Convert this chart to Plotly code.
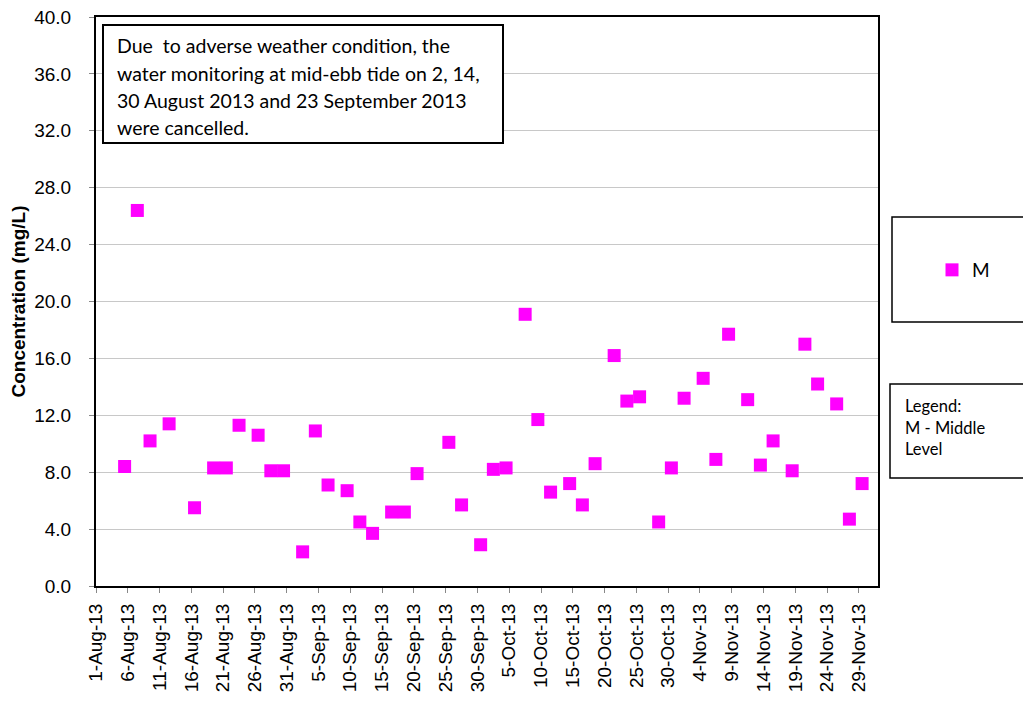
import plotly.graph_objects as go

# ---------------- data ----------------
dates = [
    "2013-08-05", "2013-08-07", "2013-08-09", "2013-08-12", "2013-08-16", "2013-08-19",
    "2013-08-21", "2013-08-23", "2013-08-26", "2013-08-28", "2013-08-30",
    "2013-09-02", "2013-09-04", "2013-09-06", "2013-09-09", "2013-09-11", "2013-09-13",
    "2013-09-16", "2013-09-18", "2013-09-20", "2013-09-25", "2013-09-27", "2013-09-30",
    "2013-10-02", "2013-10-04", "2013-10-07", "2013-10-09", "2013-10-11", "2013-10-14",
    "2013-10-16", "2013-10-18", "2013-10-21", "2013-10-23", "2013-10-25", "2013-10-28",
    "2013-10-30", "2013-11-01", "2013-11-04", "2013-11-06", "2013-11-08", "2013-11-11",
    "2013-11-13", "2013-11-15", "2013-11-18", "2013-11-20", "2013-11-22", "2013-11-25",
    "2013-11-27", "2013-11-29",
]
m_values = [
    8.4, 26.4, 10.2, 11.4, 5.5, 8.3,
    8.3, 11.3, 10.6, 8.1, 8.1,
    2.4, 10.9, 7.1, 6.7, 4.5, 3.7,
    5.2, 5.2, 7.9, 10.1, 5.7, 2.9,
    8.2, 8.3, 19.1, 11.7, 6.6, 7.2,
    5.7, 8.6, 16.2, 13.0, 13.3, 4.5,
    8.3, 13.2, 14.6, 8.9, 17.7, 13.1,
    8.5, 10.2, 8.1, 17.0, 14.2, 12.8,
    4.7, 7.2,
]
series_name = "M"
y_title = "Concentration (mg/L)"
note_lines = [
    "Due  to adverse weather condition, the",
    "water monitoring at mid-ebb tide on 2, 14,",
    "30 August 2013 and 23 September 2013",
    "were cancelled.",
]
legend_note = ["Legend:", "M - Middle", "Level"]

# ---------------- layout geometry ----------------
W, H = 1023, 701
L, R, T, B = 96, 1023 - 878, 17, 701 - 586
PW, PH = W - L - R, H - T - B


def px(x):
    return (x - L) / PW


def py(y):
    return (H - B - y) / PH


AX_FONT = "Liberation Sans, Arial, sans-serif"
BOX_FONT = "Lato, Carlito, Calibri, sans-serif"

fig = go.Figure()
fig.add_trace(go.Scatter(
    x=dates, y=m_values, name=series_name, mode="markers",
    xperiod=86400000, xperiodalignment="middle",
    marker=dict(symbol="square", size=13, color="#FF00FF",
                line=dict(width=0)),
))

shapes = [
    dict(type="rect", xref="paper", yref="paper",
         x0=px(103), x1=px(503), y0=py(143), y1=py(25),
         line=dict(color="black", width=2), fillcolor="white", layer="above"),
    dict(type="rect", xref="paper", yref="paper",
         x0=px(892), x1=px(1040), y0=py(322), y1=py(217),
         line=dict(color="black", width=1.5), fillcolor="rgba(0,0,0,0)"),
    dict(type="rect", xref="paper", yref="paper",
         x0=px(890), x1=px(1040), y0=py(478), y1=py(384),
         line=dict(color="black", width=1.5), fillcolor="rgba(0,0,0,0)"),
]

annotations = []
for i, line in enumerate(note_lines):
    annotations.append(dict(
        xref="paper", yref="paper", x=px(115), y=py(46 + 27.3 * i),
        xanchor="left", yanchor="middle", showarrow=False, text=line,
        font=dict(family=BOX_FONT, size=19.5, color="black"),
    ))
for i, line in enumerate(legend_note):
    annotations.append(dict(
        xref="paper", yref="paper", x=px(903), y=py(406 + 21.7 * i),
        xanchor="left", yanchor="middle", showarrow=False, text=line,
        font=dict(family=BOX_FONT, size=16.5, color="black"),
    ))

fig.update_layout(
    width=W, height=H,
    margin=dict(l=L, r=R, t=T, b=B, autoexpand=False),
    paper_bgcolor="white", plot_bgcolor="white",
    showlegend=True,
    legend=dict(x=px(932), y=py(270), xanchor="left", yanchor="middle",
                bgcolor="rgba(0,0,0,0)", borderwidth=0,
                font=dict(family=BOX_FONT, size=19, color="black"),
                itemwidth=30),
    shapes=shapes,
    annotations=annotations,
    xaxis=dict(
        type="date", range=["2013-08-01", "2013-12-02"],
        tick0="2013-08-01", dtick=5 * 86400000, tickformat="%-d-%b-%y",
        tickangle=-90, ticks="outside", ticklen=5, tickcolor="#888888",
        tickfont=dict(family=AX_FONT, size=19, color="black"),
        showgrid=False, showline=True, linecolor="black", linewidth=2,
        mirror=True, zeroline=False, ticklabelstandoff=3,
    ),
    yaxis=dict(
        range=[0, 40], tick0=0, dtick=4, tickformat=".1f",
        ticks="outside", ticklen=5, tickcolor="#888888",
        tickfont=dict(family=AX_FONT, size=19, color="black"),
        showgrid=True, gridcolor="#C8C8C8", gridwidth=1,
        showline=True, linecolor="black", linewidth=2, mirror=True,
        zeroline=False, ticklabelstandoff=14,
        title=dict(text="<b>" + y_title + "</b>", standoff=4,
                   font=dict(family=AX_FONT, size=19, color="black")),
    ),
)

fig.write_html("out.html", config={"displayModeBar": False},
               post_script="document.body.style.margin='0';document.body.style.overflow='hidden';")
